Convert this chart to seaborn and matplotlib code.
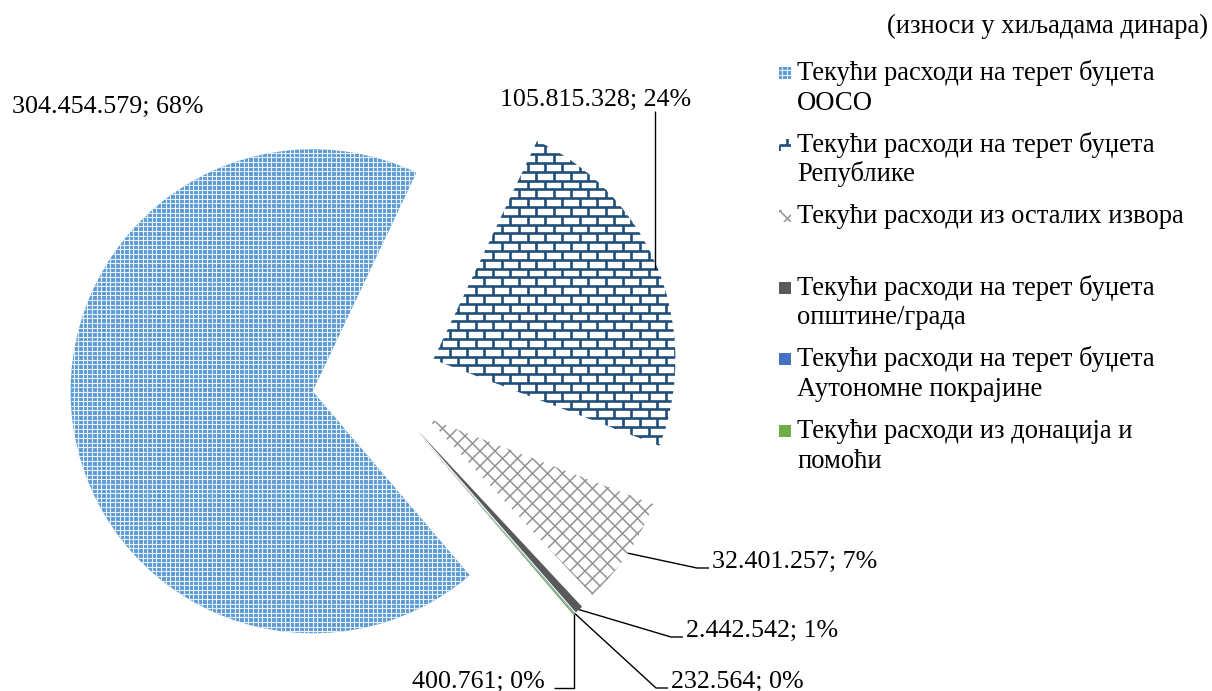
import numpy as np
import matplotlib
matplotlib.use("Agg")
import matplotlib.pyplot as plt
import seaborn as sns
from matplotlib.collections import LineCollection
from matplotlib.patches import Rectangle

# Data (amounts in thousands of dinars)
categories = [
    "Текући расходи на терет буџета ООСО",
    "Текући расходи на терет буџета Републике",
    "Текући расходи из осталих извора",
    "Текући расходи на терет буџета општине/града",
    "Текући расходи на терет буџета Аутономне покрајине",
    "Текући расходи из донација и помоћи",
]
legend_labels = [
    "Текући расходи на терет буџета\nООСО",
    "Текући расходи на терет буџета\nРепублике",
    "Текући расходи из осталих извора",
    "Текући расходи на терет буџета\nопштине/града",
    "Текући расходи на терет буџета\nАутономне покрајине",
    "Текући расходи из донација и\nпомоћи",
]
values = [304454579, 105815328, 32401257, 2442542, 232564, 400761]
unit_note = "(износи у хиљадама динара)"

# Styling
colors = ["#5B9BD5", "#FFFFFF", "#FFFFFF", "#595959", "#4472C4", "#70AD47"]
textures = ["dots", "brick", "diamond", None, None, None]
legend_colors = ["#5B9BD5", "#FFFFFF", "#FFFFFF", "#595959", "#4472C4", "#70AD47"]

W, H = 1212, 691
FS = 18.7
FS_LEG = 19.2

# label placement in pixel space: (x, baseline, ha, leader style)
label_layout = [
    (12, 113, "left", None),
    (500, 106, "left", "up"),
    (712, 568, "left", "left"),
    (686, 637, "left", "left"),
    (671, 688, "left", "left"),
    (545, 688, "right", "down"),
]


def py(y):
    return H - y


def add_texture(ax, patch, kind, x0, y0, x1, y1):
    segs = []
    if kind == "dots":
        step = 4.6
        for x in np.arange(np.floor(x0 / step) * step, x1 + step, step):
            segs.append([(x, y0), (x, y1)])
        for y in np.arange(np.floor(y0 / step) * step, y1 + step, step):
            segs.append([(x0, y), (x1, y)])
        color, lw = "#EAF2FB", 0.8
    elif kind == "brick":
        rh, bw = 8.8, 17.3
        rows = np.arange(np.floor(y0 / rh) * rh, y1 + rh, rh)
        for k, y in enumerate(rows):
            segs.append([(x0, y), (x1, y)])
            shift = (k % 2) * bw / 2
            for x in np.arange(np.floor(x0 / bw) * bw + shift - bw, x1 + bw, bw):
                segs.append([(x, y), (x, y + rh)])
        color, lw = "#1F4E79", 1.9
    else:
        sp = 15.0
        span = (x1 - x0) + (y1 - y0)
        for c in np.arange(np.floor((x0 - y1) / sp) * sp, x1 - y0 + sp, sp):
            segs.append([(c + y0, y0), (c + y0 + span, y0 + span)])
        for c in np.arange(np.floor((x0 + y0) / sp) * sp, x1 + y1 + sp, sp):
            segs.append([(c - y0, y0), (c - y0 - span, y0 + span)])
        color, lw = "#939393", 1.1
    lc = LineCollection(segs, colors=color, linewidths=lw,
                        zorder=patch.get_zorder() + 0.1)
    ax.add_collection(lc)
    lc.set_clip_path(patch)


sns.set_theme(style="white")
plt.rcParams["font.family"] = ["Liberation Serif", "DejaVu Serif"]

fig = plt.figure(figsize=(W / 100, H / 100), dpi=100)
ax = fig.add_axes([0, 0, 1, 1])

R = 242
center = (375, py(383))
explode = [0.26 * R] * len(values)
wedges, _ = ax.pie(values, colors=colors, startangle=310.5, counterclock=False,
                   explode=explode, radius=R, center=center, frame=False,
                   wedgeprops=dict(linewidth=0))
ax.set_xlim(0, W)
ax.set_ylim(0, H)
ax.set_aspect("auto")
ax.axis("off")

for w, kind in zip(wedges, textures):
    if kind:
        cx, cy = w.center
        add_texture(ax, w, kind, cx - R, cy - R, cx + R, cy + R)

# data labels with leader lines
total = sum(values)
for w, v, (tx, base, ha, style) in zip(wedges, values, label_layout):
    txt = f"{v:,}".replace(",", ".") + f"; {round(v / total * 100):.0f}%"
    ax.text(tx, py(base), txt, ha=ha, va="baseline", fontsize=FS, color="black")
    if style is None:
        continue
    mid = np.deg2rad((w.theta1 + w.theta2) / 2)
    ax_, ay_ = w.center[0] + w.r * np.cos(mid), w.center[1] + w.r * np.sin(mid)
    if style == "up":
        pts = [(ax_ - 3, ay_), (ax_ - 3, py(base + 5))]
    elif style == "left":
        pts = [(ax_, ay_), (tx - 15, py(base)), (tx - 3, py(base))]
    else:
        pts = [(ax_, ay_), (ax_, py(base)), (tx + 9, py(base))]
    xs, ys = zip(*pts)
    ax.plot(xs, ys, color="black", lw=1.0, solid_capstyle="butt")

# unit note
ax.text(1208, py(33), unit_note, ha="right", va="baseline", fontsize=FS_LEG, color="black")

# legend drawn by hand to match the source layout
for i, (lab, col, kind) in enumerate(zip(legend_labels, legend_colors, textures)):
    base = 80 + i * 71.6
    sq = Rectangle((779, py(base - 1)), 12, 12, facecolor=col, edgecolor="none", zorder=3)
    ax.add_patch(sq)
    if kind:
        add_texture(ax, sq, kind, 779, py(base - 1), 791, py(base - 13))
    for j, line in enumerate(lab.split("\n")):
        ax.text(797, py(base + j * 29.5), line, ha="left", va="baseline",
                fontsize=FS_LEG, color="black")

fig.savefig("out.png", dpi=100)
